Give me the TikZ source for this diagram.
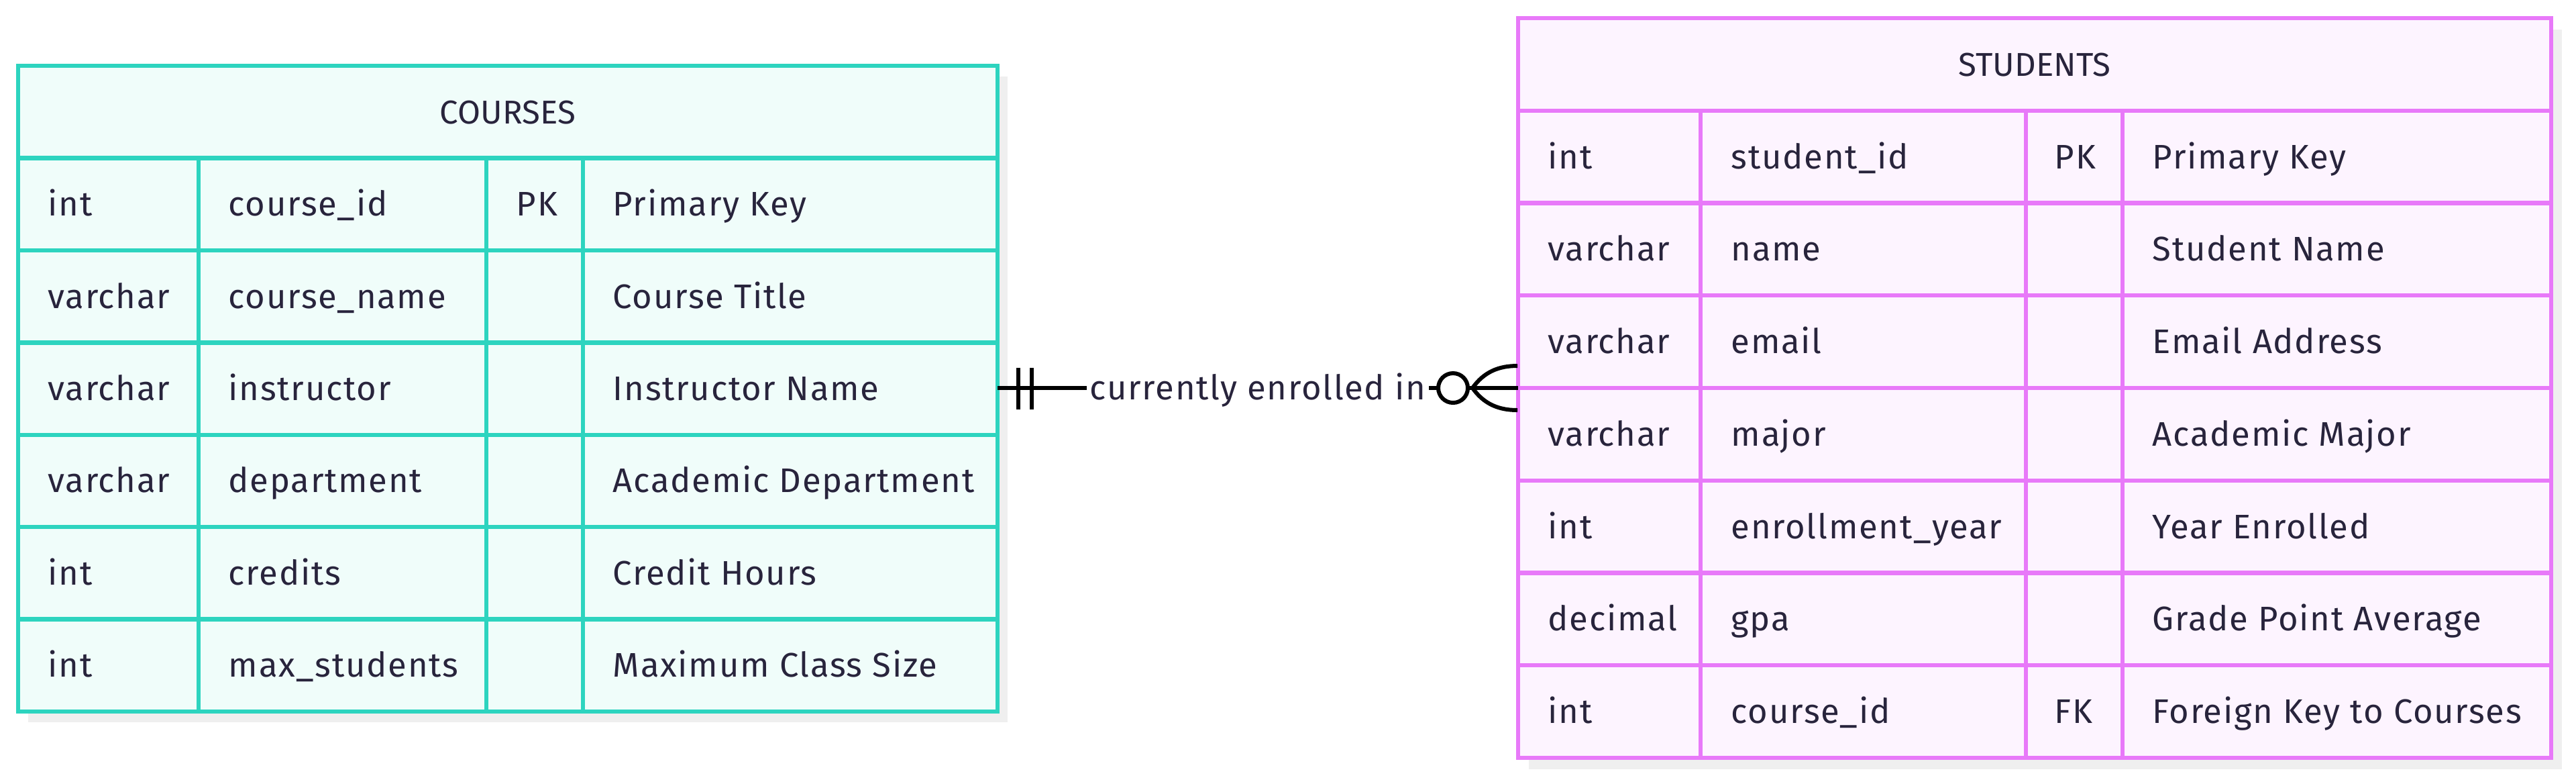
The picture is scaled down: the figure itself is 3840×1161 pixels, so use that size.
\documentclass[tikz,border=0pt]{standalone}
\usepackage{fontspec}
\setmainfont{Fira Sans}[LetterSpace=3.4]
\newfontfamily\headfont{Fira Sans}
\definecolor{tealb}{RGB}{45,212,191}
\definecolor{tealf}{RGB}{240,253,250}
\definecolor{pinkb}{RGB}{232,121,249}
\definecolor{pinkf}{RGB}{253,244,255}
\definecolor{txt}{RGB}{40,36,60}
\definecolor{shadowc}{RGB}{239,239,239}
\tikzset{
  cell/.style={anchor=base west, inner sep=0pt, text=txt, font=\fontsize{12.7pt}{15pt}\selectfont},
  headtxt/.style={anchor=base, inner sep=0pt, text=txt, font=\headfont\fontsize{12.3pt}{15pt}\selectfont},
  grid/.style={line width=1.6pt},
  rel/.style={line width=1.5pt, draw=black},
}
\newcommand\erow[6]{%
  \node[cell] (#1-t) at (\xa,#2+17.5) {#3};
  \node[cell] (#1-n) at (\xb,#2+17.5) {#4};
  \if\relax\detokenize{#5}\relax\else\node[cell] (#1-k) at (\xc,#2+17.5) {#5};\fi
  \node[cell] (#1-d) at (\xd,#2+17.5) {#6};
}
\begin{document}
\begin{tikzpicture}[x=0.25pt,y=-0.25pt]
\useasboundingbox (0,0) rectangle (3840,1161);
% ---------- COURSES ----------
\def\h{137.43}
\fill[shadowc] (27+15,98+16) rectangle (1487+15,1060+16);
\draw[grid, draw=tealb, fill=tealf] (27,98) rectangle (1487,1060);
\foreach \i in {1,...,6} \draw[grid, tealb] (27,98+\i*\h) -- (1487,98+\i*\h);
\foreach \x in {296,725,869} \draw[grid, tealb] (\x,98+\h) -- (\x,1060);
\coordinate (courses-e) at (1487,578);
\node[headtxt] (courses-title) at (757,98+0.5*\h+17.5) {COURSES};
\def\xa{71}\def\xb{340}\def\xc{769}\def\xd{913}
\erow{c1}{98+1.5*\h}{int}{course\_id}{PK}{Primary Key}
\erow{c2}{98+2.5*\h}{varchar}{course\_name}{}{Course Title}
\erow{c3}{98+3.5*\h}{varchar}{instructor}{}{Instructor Name}
\erow{c4}{98+4.5*\h}{varchar}{department}{}{Academic Department}
\erow{c5}{98+5.5*\h}{int}{credits}{}{Credit Hours}
\erow{c6}{98+6.5*\h}{int}{max\_students}{}{Maximum Class Size}
% ---------- STUDENTS ----------
\def\h{137.75}
\fill[shadowc] (2263+16,27+17) rectangle (3803+16,1129+17);
\draw[grid, draw=pinkb, fill=pinkf] (2263,27) rectangle (3803,1129);
\foreach \i in {1,...,7} \draw[grid, pinkb] (2263,27+\i*\h) -- (3803,27+\i*\h);
\foreach \x in {2535,3020,3164} \draw[grid, pinkb] (\x,27+\h) -- (\x,1129);
\coordinate (students-w) at (2263,578);
\node[headtxt] (students-title) at (3033,27+0.5*\h+17.5) {STUDENTS};
\def\xa{2307}\def\xb{2580}\def\xc{3062}\def\xd{3208}
\erow{s1}{27+1.5*\h}{int}{student\_id}{PK}{Primary Key}
\erow{s2}{27+2.5*\h}{varchar}{name}{}{Student Name}
\erow{s3}{27+3.5*\h}{varchar}{email}{}{Email Address}
\erow{s4}{27+4.5*\h}{varchar}{major}{}{Academic Major}
\erow{s5}{27+5.5*\h}{int}{enrollment\_year}{}{Year Enrolled}
\erow{s6}{27+6.5*\h}{decimal}{gpa}{}{Grade Point Average}
\erow{s7}{27+7.5*\h}{int}{course\_id}{FK}{Foreign Key to Courses}
% ---------- relationship ----------
\draw[rel] (courses-e) -- (students-w);
\node[fill=white, inner xsep=1.2pt, inner ysep=0pt, text=txt, font=\fontsize{12.7pt}{15pt}\selectfont, anchor=base] (lbl) at (1875,595) {currently enrolled in};
% one and only one
\draw[rel] (1518,548) -- (1518,610);
\draw[rel] (1538,548) -- (1538,610);
% zero or many
\coordinate (cf-apex) at (2195,578);
\draw[rel, fill=white] (2166,578) circle[radius=22];
\draw[rel] (cf-apex) .. controls (2212,554) and (2234,545) .. (2262,545);
\draw[rel] (cf-apex) .. controls (2212,602) and (2234,611) .. (2262,611);
\end{tikzpicture}
\end{document}
